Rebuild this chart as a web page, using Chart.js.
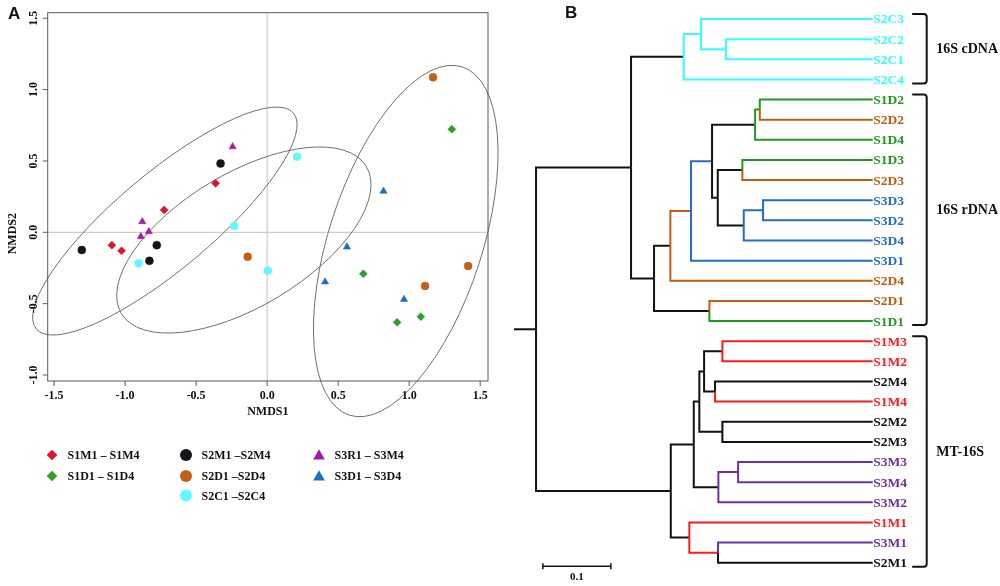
<!DOCTYPE html>
<html>
<head>
<meta charset="utf-8">
<script src="https://cdn.jsdelivr.net/npm/chart.js@4.4.1/dist/chart.umd.min.js"></script>
<style>
  html, body { margin: 0; padding: 0; background: #fff; }
  #wrap { position: relative; width: 1000px; height: 586px; }
  #nmds { position: absolute; left: 0; top: 0; }
  #tree { position: absolute; left: 500px; top: 0; }
</style>
</head>
<body>
<div id="wrap">
  <canvas id="nmds" width="500" height="586"></canvas>
  <canvas id="tree" width="500" height="586"></canvas>
</div>
<script>
// ---- panel A: NMDS ordination ----
const s1mPoints = [[-1.093, -0.090], [-1.025, -0.130], [-0.725, 0.157], [-0.363, 0.343]];
const s1dPoints = [[1.300, 0.722], [0.677, -0.291], [0.915, -0.631], [1.082, -0.591]];
const s2mPoints = [[-1.305, -0.124], [-0.777, -0.090], [-0.829, -0.200], [-0.328, 0.482]];
const s2dPoints = [[1.168, 1.086], [-0.137, -0.171], [1.415, -0.236], [1.112, -0.376]];
const s2cPoints = [[0.211, 0.530], [-0.232, 0.045], [-0.905, -0.217], [0.005, -0.269]];
const s3mPoints = [[-0.243, 0.600], [-0.879, 0.075], [-0.833, 0.004], [-0.889, -0.030]];
const s3dPoints = [[0.819, 0.288], [0.562, -0.103], [0.408, -0.347], [0.964, -0.470]];

const xTicks = [-1.5, -1.0, -0.5, 0.0, 0.5, 1.0, 1.5];
const yTicks = [-1.0, -0.5, 0.0, 0.5, 1.0, 1.5];

// confidence ellipses: centre, semi-axes (NMDS units), tilt in degrees
const ellipses = [
  { cx: -0.720, cy: 0.079, a: 1.182, b: 0.338, angle: 40 },
  { cx: -0.164, cy: -0.054, a: 1.006, b: 0.468, angle: 31 },
  { cx: 0.976, cy: -0.061, a: 1.289, b: 0.540, angle: 72 },
];

// ---- panel B: dendrogram ----
const leaves = ["S2C3", "S2C2", "S2C1", "S2C4", "S1D2", "S2D2", "S1D4", "S1D3", "S2D3",
  "S3D3", "S3D2", "S3D4", "S3D1", "S2D4", "S2D1", "S1D1", "S1M3", "S1M2", "S2M4",
  "S1M4", "S2M2", "S2M3", "S3M3", "S3M4", "S3M2", "S1M1", "S3M1", "S2M1"];
const leafDepth = 0.495;
const rootStub = -0.0324;
// [child, child, node position]; numbers refer to earlier merges
const merges = [
  ["S2C2", "S2C1", 0.2794],
  ["S2C3", 0, 0.2426],
  [1, "S2C4", 0.2172],
  ["S1D2", "S2D2", 0.3290],
  [3, "S1D4", 0.3221],
  ["S1D3", "S2D3", 0.3034],
  ["S3D3", "S3D2", 0.3338],
  [6, "S3D4", 0.3054],
  [5, 7, 0.2672],
  [4, 8, 0.2588],
  [9, "S3D1", 0.2279],
  [10, "S2D4", 0.1975],
  ["S2D1", "S1D1", 0.2549],
  [11, 12, 0.1735],
  [2, 13, 0.1397],
  ["S1M3", "S1M2", 0.2740],
  ["S2M4", "S1M4", 0.2632],
  [15, 16, 0.2471],
  ["S2M2", "S2M3", 0.2740],
  [17, 18, 0.2401],
  ["S3M3", "S3M4", 0.2971],
  [20, "S3M2", 0.2681],
  [19, 21, 0.2319],
  ["S3M1", "S2M1", 0.2676],
  ["S1M1", 23, 0.2254],
  [22, 24, 0.1981],
  [14, 25, 0.0],
];
const clusters = [["16S cDNA", 0, 3], ["16S rDNA", 4, 15], ["MT-16S", 16, 27]];

const C = {
  cyan: "#33ffff", green: "#1e9a1e", brown: "#c55a11", blue: "#1f6fc8",
  red: "#ff1a1a", purple: "#7030a0", black: "#111111",
};
const leafColors = [C.cyan, C.cyan, C.cyan, C.cyan, C.green, C.brown, C.green, C.green, C.brown,
  C.blue, C.blue, C.blue, C.blue, C.brown, C.brown, C.green, C.red, C.red, C.black,
  C.red, C.black, C.black, C.purple, C.purple, C.purple, C.red, C.purple, C.black];
const mergeColors = [C.cyan, C.cyan, C.black, C.green, C.black, C.black, C.blue, C.black,
  C.black, C.blue, C.brown, C.black, C.black, C.black, C.black, C.black, C.black, C.black,
  C.black, C.black, C.purple, C.black, C.black, C.red, C.black, C.black, C.black];

const SERIF = "'Liberation Serif', 'DejaVu Serif', serif";
const SANS = "'Liberation Sans', Arial, sans-serif";

const groups = [
  { label: "S1M1 – S1M4", pts: s1mPoints, color: "#e2102a", style: "rectRot" },
  { label: "S1D1 – S1D4", pts: s1dPoints, color: "#2e9e2a", style: "rectRot" },
  { label: "S2M1 –S2M4", pts: s2mPoints, color: "#121519", style: "circle" },
  { label: "S2D1 –S2D4", pts: s2dPoints, color: "#c2601a", style: "circle" },
  { label: "S2C1 –S2C4", pts: s2cPoints, color: "#66f6ff", style: "circle" },
  { label: "S3R1 – S3M4", pts: s3mPoints, color: "#a31aa8", style: "triangle" },
  { label: "S3D1 – S3D4", pts: s3dPoints, color: "#1a6ec4", style: "triangle" },
];
// legend columns (indexes into groups)
const legendCols = [[0, 1], [2, 3, 4], [5, 6]];

function drawMarker(ctx, style, x, y, r, color) {
  ctx.fillStyle = color;
  ctx.beginPath();
  if (style === "circle") {
    ctx.arc(x, y, r, 0, Math.PI * 2);
  } else if (style === "rectRot") {
    ctx.moveTo(x, y - r); ctx.lineTo(x + r, y); ctx.lineTo(x, y + r); ctx.lineTo(x - r, y);
    ctx.closePath();
  } else {
    ctx.moveTo(x, y - r); ctx.lineTo(x + r * 0.866, y + r / 2); ctx.lineTo(x - r * 0.866, y + r / 2);
    ctx.closePath();
  }
  ctx.fill();
}

const nmdsDecor = {
  id: "nmdsDecor",
  beforeDatasetsDraw(chart) {
    const { ctx, chartArea: a, scales: { x, y } } = chart;
    ctx.save();
    ctx.strokeStyle = "#c2c2c2";
    ctx.lineWidth = 1;
    const x0 = x.getPixelForValue(0), y0 = y.getPixelForValue(0);
    ctx.beginPath();
    ctx.moveTo(x0, a.top); ctx.lineTo(x0, a.bottom);
    ctx.moveTo(a.left, y0); ctx.lineTo(a.right, y0);
    ctx.stroke();
    const ppu = x.getPixelForValue(1) - x.getPixelForValue(0);
    ctx.strokeStyle = "#707070";
    ellipses.forEach(e => {
      ctx.beginPath();
      ctx.ellipse(x.getPixelForValue(e.cx), y.getPixelForValue(e.cy), e.a * ppu, e.b * ppu,
        -e.angle * Math.PI / 180, 0, Math.PI * 2);
      ctx.stroke();
    });
    ctx.restore();
  },
  afterDraw(chart) {
    const { ctx, chartArea: a, scales: { x, y } } = chart;
    ctx.save();
    ctx.strokeStyle = "#5a5a5a";
    ctx.lineWidth = 1;
    ctx.strokeRect(a.left, a.top, a.right - a.left, a.bottom - a.top);
    ctx.beginPath();
    xTicks.forEach(v => { const px = x.getPixelForValue(v); ctx.moveTo(px, a.bottom); ctx.lineTo(px, a.bottom + 5); });
    yTicks.forEach(v => { const py = y.getPixelForValue(v); ctx.moveTo(a.left, py); ctx.lineTo(a.left - 5, py); });
    ctx.stroke();

    ctx.fillStyle = "#111";
    ctx.font = "bold 12px " + SERIF;
    ctx.textAlign = "center";
    ctx.textBaseline = "middle";
    xTicks.forEach(v => ctx.fillText(v.toFixed(1), x.getPixelForValue(v), a.bottom + 15));
    yTicks.forEach(v => {
      ctx.save();
      ctx.translate(a.left - 14, y.getPixelForValue(v));
      ctx.rotate(-Math.PI / 2);
      ctx.fillText(v.toFixed(1), 0, 0);
      ctx.restore();
    });
    ctx.fillText("NMDS1", (a.left + a.right) / 2, a.bottom + 31);
    ctx.save();
    ctx.translate(13, a.top + 221);
    ctx.rotate(-Math.PI / 2);
    ctx.fillText("NMDS2", 0, 0);
    ctx.restore();

    // legend
    const colX = [52, 186, 319];
    const rowY = [455, 476, 495.5];
    ctx.textAlign = "left";
    legendCols.forEach((col, ci) => {
      col.forEach((gi, ri) => {
        const g = groups[gi];
        const r = g.style === "rectRot" ? 5.3 : g.style === "circle" ? 6 : 6.8;
        drawMarker(ctx, g.style, colX[ci], rowY[ri] + (g.style === "triangle" ? 1 : 0), r, g.color);
        ctx.fillStyle = "#111";
        ctx.fillText(g.label, colX[ci] + 15.5, rowY[ri] + 1);
      });
    });

    ctx.font = "bold 17px " + SANS;
    ctx.textBaseline = "alphabetic";
    ctx.fillText("A", 8, 18.5);
    ctx.restore();
  },
};

new Chart(document.getElementById("nmds").getContext("2d"), {
  type: "scatter",
  data: {
    datasets: groups.map(g => ({
      label: g.label,
      data: g.pts.map(p => ({ x: p[0], y: p[1] })),
      pointStyle: g.style,
      pointRadius: g.style === "triangle" ? 4.2 : 4,
      backgroundColor: g.color,
      borderColor: g.color,
      borderWidth: 0.5,
      clip: false,
    })),
  },
  options: {
    responsive: false,
    animation: false,
    events: [],
    layout: { padding: { left: 47.7, right: 12, top: 12.7, bottom: 205 } },
    scales: {
      x: { type: "linear", min: -1.545, max: 1.555, display: false },
      y: { type: "linear", min: -1.042, max: 1.539, display: false },
    },
    plugins: { legend: { display: false }, tooltip: { enabled: false } },
  },
  plugins: [nmdsDecor],
});

// ---- build dendrogram branches ----
const mergeY = [];
function refY(ref) { return typeof ref === "string" ? leaves.indexOf(ref) : mergeY[ref]; }
function refX(ref) { return typeof ref === "string" ? leafDepth : merges[ref][2]; }
function refColor(ref) { return typeof ref === "string" ? leafColors[leaves.indexOf(ref)] : mergeColors[ref]; }
merges.forEach((m, i) => { mergeY[i] = (refY(m[0]) + refY(m[1])) / 2; });

const branchSets = [];
merges.forEach((m, i) => {
  [m[0], m[1]].forEach(c => {
    branchSets.push({
      data: [{ x: m[2], y: mergeY[i] }, { x: m[2], y: refY(c) }, { x: refX(c), y: refY(c) }],
      borderColor: refColor(c),
    });
  });
});
const root = merges.length - 1;
branchSets.push({
  data: [{ x: rootStub, y: mergeY[root] }, { x: merges[root][2], y: mergeY[root] }],
  borderColor: C.black,
});

const treeDecor = {
  id: "treeDecor",
  afterDraw(chart) {
    const { ctx, chartArea: a, scales: { x, y } } = chart;
    ctx.save();
    ctx.textBaseline = "middle";
    ctx.textAlign = "left";
    ctx.font = "bold 13.5px " + SERIF;
    leaves.forEach((name, i) => {
      ctx.fillStyle = leafColors[i];
      ctx.fillText(name, a.right + 0.5, y.getPixelForValue(i) + 1);
    });

    // cluster brackets
    ctx.strokeStyle = "#111";
    ctx.fillStyle = "#111";
    ctx.lineWidth = 2;
    ctx.font = "bold 14px " + SERIF;
    const bx = a.right + 54;
    clusters.forEach(([label, first, last]) => {
      const yt = y.getPixelForValue(first) - 5;
      const yb = y.getPixelForValue(last) + 4;
      ctx.beginPath();
      ctx.moveTo(bx - 14.5, yt);
      ctx.lineTo(bx - 3, yt);
      ctx.quadraticCurveTo(bx, yt, bx, yt + 3);
      ctx.lineTo(bx, yb - 3);
      ctx.quadraticCurveTo(bx, yb, bx - 3, yb);
      ctx.lineTo(bx - 14.5, yb);
      ctx.stroke();
      ctx.fillText(label, bx + 9.5, (yt + yb) / 2 + 1);
    });

    // scale bar 0.1
    const sx0 = x.getPixelForValue(0.01), sx1 = x.getPixelForValue(0.11);
    const sy = a.bottom + 3.5;
    ctx.lineWidth = 1.5;
    ctx.beginPath();
    ctx.moveTo(sx0, sy); ctx.lineTo(sx1, sy);
    ctx.moveTo(sx0, sy - 3); ctx.lineTo(sx0, sy + 3);
    ctx.moveTo(sx1, sy - 3); ctx.lineTo(sx1, sy + 3);
    ctx.stroke();
    ctx.font = "bold 11px " + SERIF;
    ctx.textAlign = "center";
    ctx.fillText("0.1", (sx0 + sx1) / 2, sy + 11);

    ctx.font = "bold 17px " + SANS;
    ctx.textAlign = "left";
    ctx.textBaseline = "alphabetic";
    ctx.fillText("B", 65, 18);
    ctx.restore();
  },
};

new Chart(document.getElementById("tree").getContext("2d"), {
  type: "scatter",
  data: {
    datasets: branchSets.map(b => ({
      data: b.data,
      borderColor: b.borderColor,
      showLine: true,
      borderWidth: 2,
      pointRadius: 0,
      tension: 0,
      fill: false,
      clip: false,
      borderJoinStyle: "miter",
    })),
  },
  options: {
    responsive: false,
    animation: false,
    events: [],
    layout: { padding: { left: 14, right: 127.3, top: 19, bottom: 23.3 } },
    scales: {
      x: { type: "linear", min: rootStub, max: leafDepth, display: false },
      y: { type: "linear", min: 0, max: leaves.length - 1, reverse: true, display: false },
    },
    plugins: { legend: { display: false }, tooltip: { enabled: false } },
  },
  plugins: [treeDecor],
});
</script>
</body>
</html>
